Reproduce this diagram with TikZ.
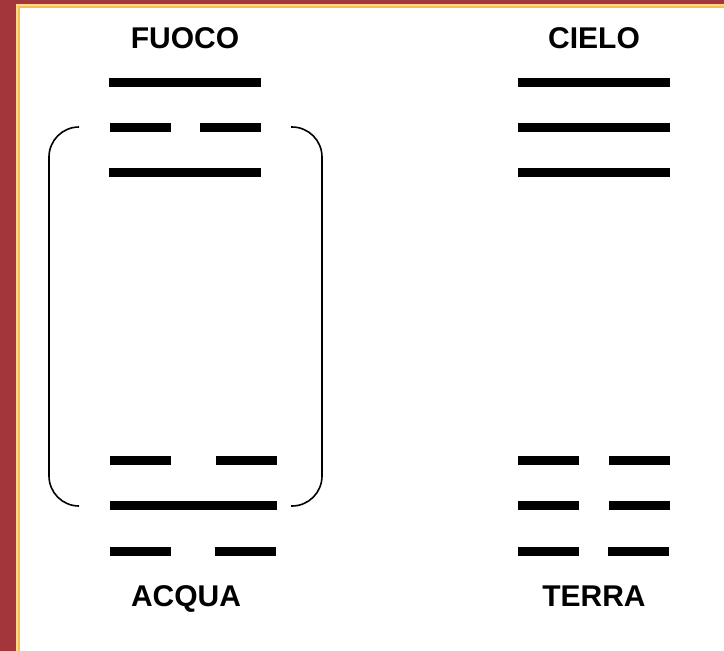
\documentclass[tikz,border=0pt]{standalone}
\usepackage{fontspec}
\setmainfont{Liberation Sans}
\definecolor{marble}{RGB}{163,54,58}
\definecolor{goldline}{RGB}{250,190,80}
\definecolor{goldpale}{RGB}{252,215,140}
\tikzset{
  bar/.style={fill=black, draw=none},
  brace/.style={draw=black, line width=1.6pt, rounded corners=30pt},
  label/.style={anchor=base, font=\fontsize{30}{36}\selectfont\bfseries, inner sep=0pt}
}
\begin{document}
\begin{tikzpicture}[x=1pt, y=-1pt]
  % background
  \fill[marble] (0,0) rectangle (724,651);
  \fill[goldpale] (16,4) rectangle (724,651);
  \fill[goldline] (17.5,5.5) rectangle (724,651);
  \fill[white] (19.5,8) rectangle (724,651);
  \useasboundingbox (0,0) rectangle (724,651);

  % labels
  \node[label] (fuoco) at (185,48) {FUOCO};
  \node[label] (cielo) at (594,48) {CIELO};
  \node[label] (acqua) at (186,606) {ACQUA};
  \node[label] (terra) at (594,606) {TERRA};

  % FUOCO trigram
  \fill[bar] (109,78) rectangle (261,87);
  \fill[bar] (110,123) rectangle (171,132);
  \fill[bar] (200,123) rectangle (261,132);
  \fill[bar] (109,168) rectangle (261,177);

  % CIELO trigram
  \fill[bar] (518,78) rectangle (670,87);
  \fill[bar] (518,123) rectangle (670,132);
  \fill[bar] (518,168) rectangle (670,177);

  % ACQUA trigram
  \fill[bar] (110,456) rectangle (171,465);
  \fill[bar] (216,456) rectangle (277,465);
  \fill[bar] (110,501) rectangle (277,510);
  \fill[bar] (110,547) rectangle (171,556);
  \fill[bar] (215,547) rectangle (276,556);

  % TERRA trigram
  \fill[bar] (518,456) rectangle (579,465);
  \fill[bar] (609,456) rectangle (670,465);
  \fill[bar] (518,501) rectangle (579,510);
  \fill[bar] (609,501) rectangle (670,510);
  \fill[bar] (518,547) rectangle (579,556);
  \fill[bar] (608,547) rectangle (669,556);

  % brackets
  \draw[brace] (79,127) -- (49,127) -- (49,506) -- (79,506);
  \draw[brace] (291,127) -- (322,127) -- (322,506) -- (291,506);
\end{tikzpicture}
\end{document}
